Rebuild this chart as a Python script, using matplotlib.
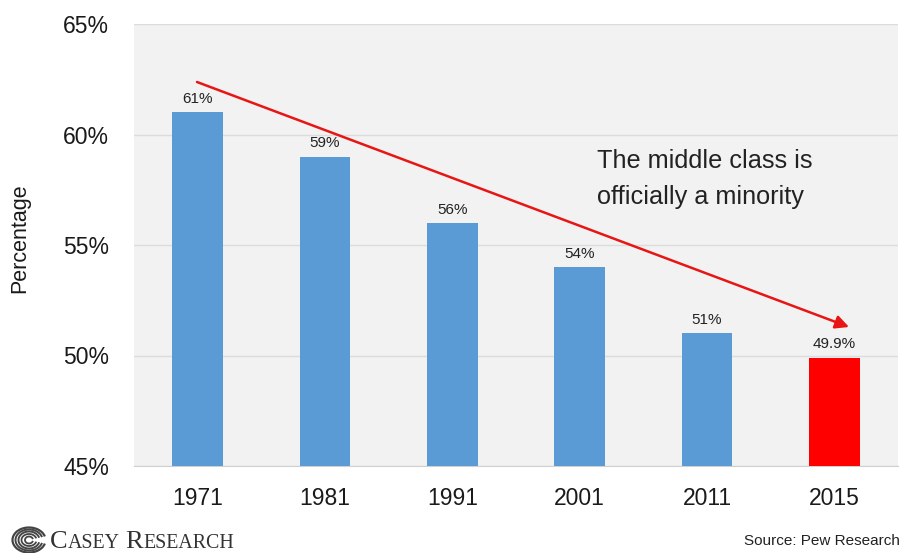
import matplotlib
matplotlib.use("Agg")
import matplotlib.pyplot as plt
from matplotlib.patches import Arc

years = ["1971", "1981", "1991", "2001", "2011", "2015"]
values = [61, 59, 56, 54, 51, 49.9]
labels = ["61%", "59%", "56%", "54%", "51%", "49.9%"]
yticks = [45, 50, 55, 60, 65]
colors = ["#5B9BD5"] * 5 + ["#FF0000"]

plt.rcParams['font.family'] = ['Liberation Sans', 'DejaVu Sans']
W, H = 901, 553
fig = plt.figure(figsize=(W/100, H/100), dpi=100)
L, R, T, B = 134, 898, 24, 466
ax = fig.add_axes([L/W, 1-B/H, (R-L)/W, (B-T)/H])
ax.set_facecolor("#F2F2F2")
fig.patch.set_facecolor("white")
ax.bar(range(6), values, width=0.4, color=colors, zorder=3)
ax.set_xlim(-0.5, 5.5)
ax.set_ylim(45, 65)
ax.set_yticks(yticks)
ax.set_yticklabels([f"{v}%" for v in yticks], fontsize=16.5, color="#1a1a1a")
ax.set_xticks(range(6))
ax.set_xticklabels(years, fontsize=16.5, color="#1a1a1a")
ax.tick_params(length=0)
ax.tick_params(axis='y', pad=18)
ax.tick_params(axis='x', pad=15)
ax.grid(axis='y', color="#DCDCDC", lw=1, zorder=0)
for s in ax.spines.values():
    s.set_visible(False)
ax.spines['bottom'].set_visible(True)
ax.spines['bottom'].set_color("#D0D0D0")
ax.set_axisbelow(True)
fig.text(20/W, 1-238/H, "Percentage", fontsize=15.5, rotation=90, ha="center", va="center", color="#1a1a1a")
for i, (v, l) in enumerate(zip(values, labels)):
    ax.annotate(l, (i, v), xytext=(0, 4.5), textcoords="offset points", ha="center", va="bottom",
                fontsize=11, color="#222222", zorder=5)
ax.annotate("", xy=(849/W, 1-327/H), xytext=(197/W, 1-82/H), xycoords="figure fraction", textcoords="figure fraction",
            arrowprops=dict(arrowstyle="-|>", color="#E81515", lw=1.8, mutation_scale=20, shrinkA=0, shrinkB=0), zorder=6)
fig.text(597/W, 1-161/H, "The middle class is", fontsize=18.2, va="center", color="#222222")
fig.text(597/W, 1-197/H, "officially a minority", fontsize=18.2, va="center", color="#222222")
fig.text(900/W, 1-541/H, "Source: Pew Research", fontsize=11, ha="right", va="center", color="#222222")

# logo: concentric swirl mark
for w, h, lw in [(33, 25, 1.6), (27, 21, 1.4), (21, 17, 1.4), (15, 12, 1.3), (8, 7, 1.3)]:
    fig.add_artist(Arc((29/W, 1-540/H), w/W, h/H, theta1=20, theta2=340, transform=fig.transFigure,
                       color="#444444", lw=lw))

# brand name in small caps
fig.canvas.draw()
rend = fig.canvas.get_renderer()
x = 50
for piece, size, gap in [("C", 19, 0), ("ASEY", 14.3, 6), ("R", 19, 0), ("ESEARCH", 14.3, 0)]:
    t = fig.text(x/W, 1-548/H, piece, fontsize=size, family="Liberation Serif", va="baseline", color="#333333")
    x = t.get_window_extent(rend).x1 + gap
fig.savefig("out.png", dpi=100)
